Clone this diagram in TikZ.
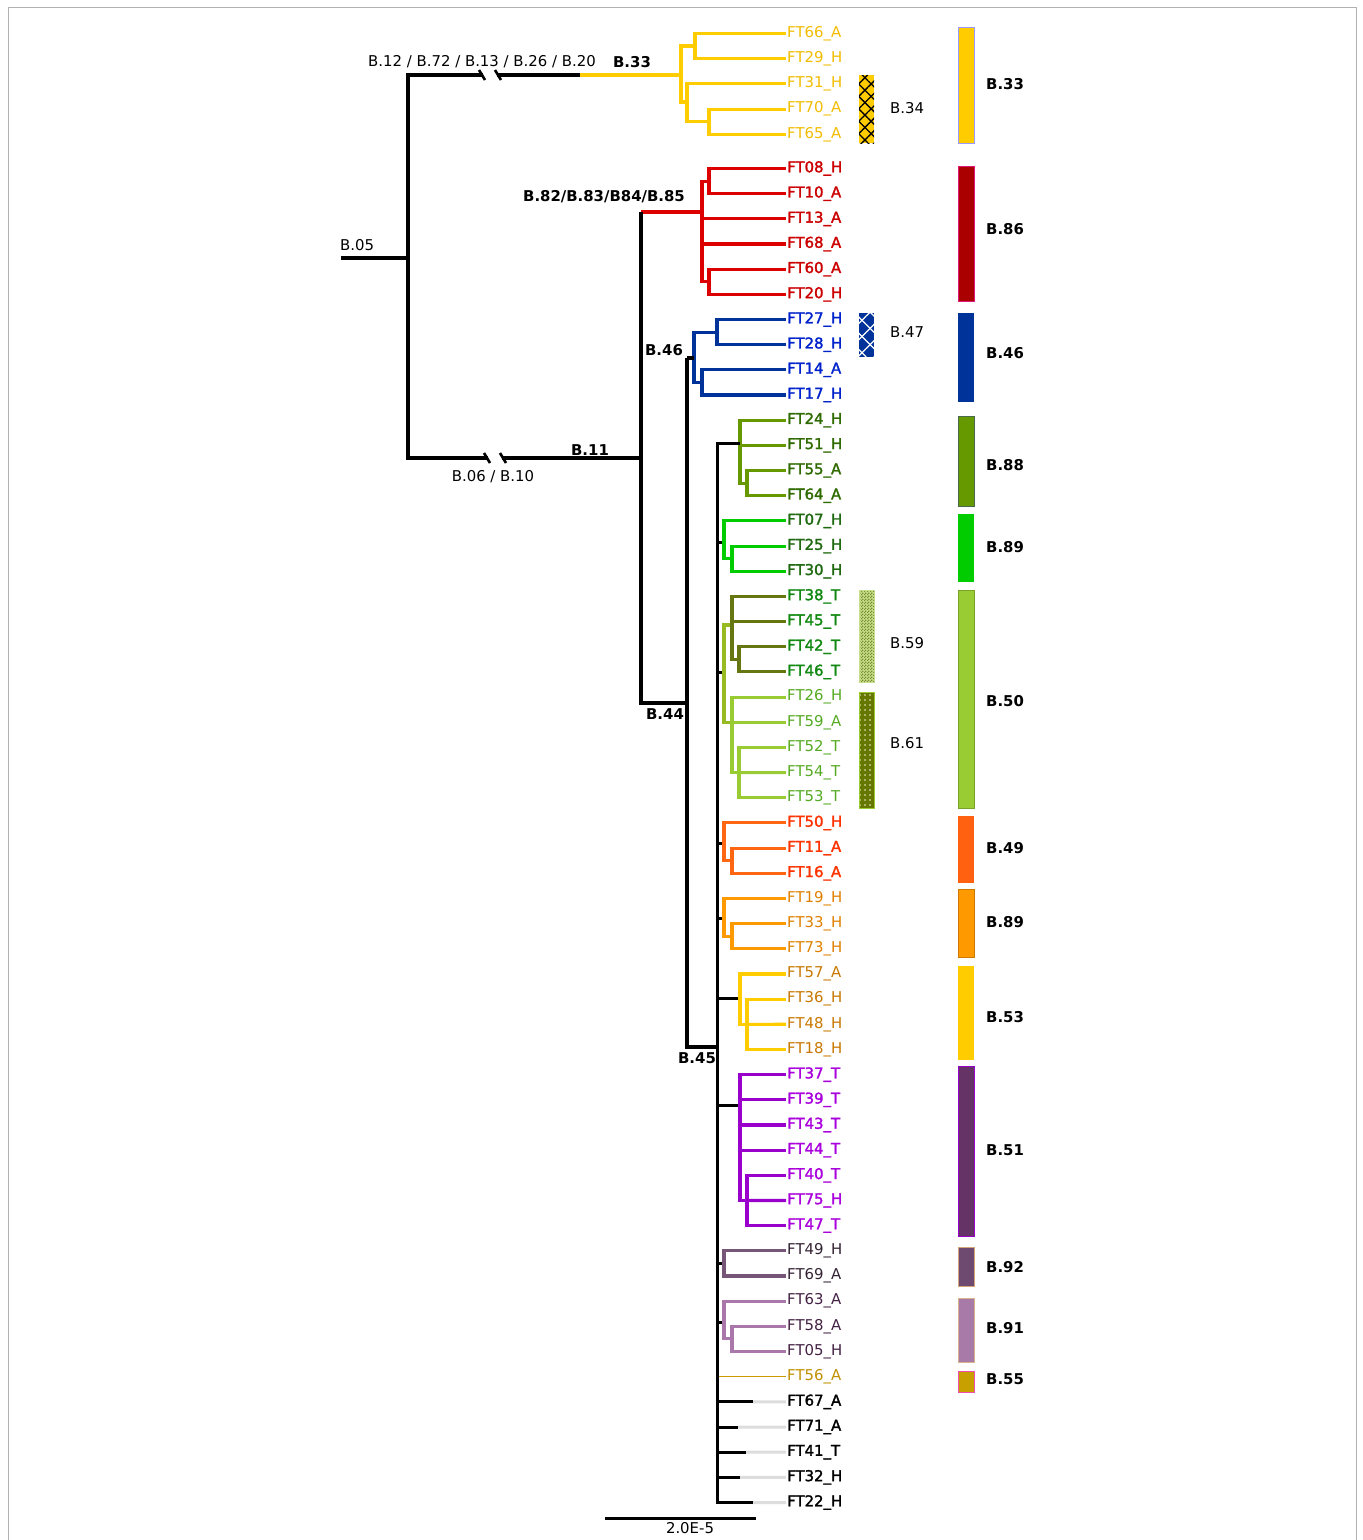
\documentclass[tikz,border=0pt]{standalone}
\usepackage{fontspec}
\setmainfont{DejaVu Sans}
\newfontfamily\fbold[FakeBold=1.8]{DejaVu Sans}
\usetikzlibrary{patterns,patterns.meta}
\pgfdeclarepatternformonly{finecheck}{\pgfpointorigin}{\pgfpoint{3pt}{3pt}}{\pgfpoint{3pt}{3pt}}{%
  \pgfpathrectangle{\pgfpointorigin}{\pgfpoint{1.5pt}{1.5pt}}%
  \pgfpathrectangle{\pgfpoint{1.5pt}{1.5pt}}{\pgfpoint{1.5pt}{1.5pt}}%
  \pgfusepath{fill}}
% branch colours
\definecolor{cY}{HTML}{FFCC00}
\definecolor{cR}{HTML}{DD0000}
\definecolor{cB}{HTML}{003399}
\definecolor{cO}{HTML}{669900}
\definecolor{cG}{HTML}{00CC00}
\definecolor{cD}{HTML}{667711}
\definecolor{cL}{HTML}{99CC33}
\definecolor{cM}{HTML}{99BB22}
\definecolor{cOR}{HTML}{FF6611}
\definecolor{cOG}{HTML}{FF9900}
\definecolor{cP}{HTML}{9900CC}
\definecolor{cW}{HTML}{775577}
\definecolor{cX}{HTML}{AA77AA}
\definecolor{cGold}{HTML}{CC9900}
\definecolor{cGray}{HTML}{DDDDDD}
% text colours
\definecolor{tY}{HTML}{F2BC00}
\definecolor{tR}{HTML}{CC0000}
\definecolor{tB}{HTML}{0022CC}
\definecolor{tO}{HTML}{2F6B00}
\definecolor{tDG}{HTML}{1F6A11}
\definecolor{tG}{HTML}{118811}
\definecolor{tL}{HTML}{55AA22}
\definecolor{tOR}{HTML}{FF3300}
\definecolor{tOG}{HTML}{E08000}
\definecolor{tBr}{HTML}{C87800}
\definecolor{tP}{HTML}{AA00DD}
\definecolor{tDP}{HTML}{332233}
\definecolor{tMP}{HTML}{442244}
\definecolor{tGold}{HTML}{C09000}
% box colours
\definecolor{bR}{HTML}{AA0000}
\definecolor{bB}{HTML}{003399}
\definecolor{bP}{HTML}{663366}
\definecolor{bW}{HTML}{6F4A70}
\definecolor{bX}{HTML}{A87AA8}
\definecolor{bGold}{HTML}{C8A000}
\definecolor{bOl}{HTML}{667700}
\definecolor{bChk}{HTML}{C6DE8C}
\definecolor{bChkD}{HTML}{7A8C2A}
\tikzset{
  lab/.style={font=\fontsize{14.9}{16}\selectfont, inner sep=1pt},
  blab/.style={font=\fontsize{14.9}{16}\selectfont\bfseries, inner sep=1pt},
  leaf/.style={lab, anchor=west},
  leafb/.style={leaf, font=\fontsize{14.9}{16}\fbold},
  lyel/.style={leaf, text=tY},
  lred/.style={leafb, text=tR},
  lblu/.style={leafb, text=tB},
  lolv/.style={leafb, text=tO},
  ldg/.style={leafb, text=tDG},
  lgrn/.style={leafb, text=tG},
  llg/.style={leaf, text=tL},
  lorr/.style={leafb, text=tOR},
  lorg/.style={leaf, text=tOG},
  lbrn/.style={leaf, text=tBr},
  lpur/.style={leafb, text=tP},
  ldp/.style={leaf, text=tDP},
  lmp/.style={leaf, text=tMP},
  lgold/.style={leaf, text=tGold},
  lblk/.style={leafb, text=black},
  br/.style={line width=3.1pt, line join=miter},
  bk/.style={line width=3.4pt, line join=miter, black},
  tick/.style={line width=2.6pt, black},
  gr/.style={line width=3pt, cGray},
}
\begin{document}
\begin{tikzpicture}[x=1pt,y=-1pt]
\useasboundingbox (0,0) rectangle (1363,1540);
\fill[white] (0,0) rectangle (1363,1540);
\draw[gray!60, line width=1pt] (8,7) rectangle (1356,1560);

% ---------- leaves ----------
\node[lyel] (FT66) at (786,33.5) {FT66\_A};
\node[lyel] (FT29) at (786,58.7) {FT29\_H};
\node[lyel] (FT31) at (786,83.9) {FT31\_H};
\node[lyel] (FT70) at (786,109.1) {FT70\_A};
\node[lyel] (FT65) at (786,134.3) {FT65\_A};
\foreach \n/\t/\s [count=\k from 0] in {
 FT08/FT08\_H/lred, FT10/FT10\_A/lred, FT13/FT13\_A/lred, FT68/FT68\_A/lred, FT60/FT60\_A/lred, FT20/FT20\_H/lred,
 FT27/FT27\_H/lblu, FT28/FT28\_H/lblu, FT14/FT14\_A/lblu, FT17/FT17\_H/lblu,
 FT24/FT24\_H/lolv, FT51/FT51\_H/lolv, FT55/FT55\_A/lolv, FT64/FT64\_A/lolv,
 FT07/FT07\_H/ldg, FT25/FT25\_H/ldg, FT30/FT30\_H/ldg,
 FT38/FT38\_T/lgrn, FT45/FT45\_T/lgrn, FT42/FT42\_T/lgrn, FT46/FT46\_T/lgrn,
 FT26/FT26\_H/llg, FT59/FT59\_A/llg, FT52/FT52\_T/llg, FT54/FT54\_T/llg, FT53/FT53\_T/llg,
 FT50/FT50\_H/lorr, FT11/FT11\_A/lorr, FT16/FT16\_A/lorr,
 FT19/FT19\_H/lorg, FT33/FT33\_H/lorg, FT73/FT73\_H/lorg,
 FT57/FT57\_A/lbrn, FT36/FT36\_H/lbrn, FT48/FT48\_H/lbrn, FT18/FT18\_H/lbrn,
 FT37/FT37\_T/lpur, FT39/FT39\_T/lpur, FT43/FT43\_T/lpur, FT44/FT44\_T/lpur, FT40/FT40\_T/lpur, FT75/FT75\_H/lpur, FT47/FT47\_T/lpur,
 FT49/FT49\_H/ldp, FT69/FT69\_A/ldp,
 FT63/FT63\_A/lmp, FT58/FT58\_A/lmp, FT05/FT05\_H/lmp,
 FT56/FT56\_A/lgold,
 FT67/FT67\_A/lblk, FT71/FT71\_A/lblk, FT41/FT41\_T/lblk, FT32/FT32\_H/lblk, FT22/FT22\_H/lblk}
 {\node[\s] (\n) at (786,{168.5+\k*25.17}) {\t};}

% ---------- internal coordinates ----------
\coordinate (r0) at (341,258);
\coordinate (r1) at (408,258);
\coordinate (top) at (408,75);
\coordinate (bot) at (408,458);
\coordinate (k1a) at (483,75);
\coordinate (k1b) at (497,75);
\coordinate (b33) at (580,75);
\coordinate (k2a) at (488,458);
\coordinate (k2b) at (502,458);
\coordinate (n11) at (641,458);
\coordinate (y0) at (681,75);
\coordinate (y1) at (695,46);
\coordinate (y2) at (687,102);
\coordinate (y3) at (709,121.7);
\coordinate (a82) at (641,212);
\coordinate (a44) at (641,703);
\coordinate (b44) at (687,703);
\coordinate (b46) at (687,358);
\coordinate (b45) at (687,1047);
\coordinate (c45) at (717,1047);
\coordinate (ctop) at (717,443);
\coordinate (cbot) at (717,1502.5);
\coordinate (rr) at (702,212);
\coordinate (ra) at (709,181.1);
\coordinate (rb) at (709,281.8);
\coordinate (uu) at (694,358);
\coordinate (ua) at (717,332.1);
\coordinate (ub) at (702,382.5);
\coordinate (o0) at (740,443);
\coordinate (oa) at (747,483.1);
\coordinate (g0) at (724,542);
\coordinate (ga) at (732,558.7);
\coordinate (m0) at (724,672);
\coordinate (m1) at (724,625);
\coordinate (m2) at (724,722.2);
\coordinate (ma) at (732,625);
\coordinate (mb) at (732,722.2);
\coordinate (mc) at (739,659.3);
\coordinate (md) at (739,772.6);
\coordinate (p0) at (724,843);
\coordinate (pa) at (732,860.7);
\coordinate (q0) at (724,918);
\coordinate (qa) at (732,936.2);
\coordinate (s0) at (740,998);
\coordinate (sa) at (747,1024.3);
\coordinate (v0) at (740,1105);
\coordinate (va) at (747,1200.5);
\coordinate (w0) at (724,1263);
\coordinate (x0) at (724,1322);
\coordinate (xa) at (732,1338.9);
\coordinate (e67) at (753,1401.8);
\coordinate (e71) at (738,1427);
\coordinate (e41) at (746,1452.2);
\coordinate (e32) at (740,1477.3);
\coordinate (e22) at (753,1502.5);
\coordinate (sb1) at (605,1518);
\coordinate (sb2) at (756,1518);

% ---------- yellow B.33 clade ----------
\draw[br,cY] (FT66.west) -| (y1) |- (FT29.west);
\draw[br,cY] (FT70.west) -| (y3) |- (FT65.west);
\draw[br,cY] (FT31.west) -| (y2) |- (y3);
\draw[br,cY] (y1) -| (y0) |- (y2);
\draw[br,cY] (b33) -- (y0);

% ---------- red clade ----------
\draw[br,cR] (FT08.west) -| (ra) |- (FT10.west);
\draw[br,cR] (FT60.west) -| (rb) |- (FT20.west);
\draw[br,cR] (ra) -| (rr) |- (rb);
\draw[br,cR] (rr |- FT13.west) -- (FT13.west);
\draw[br,cR] (rr |- FT68.west) -- (FT68.west);
\draw[br,cR] (a82) -- (rr);

% ---------- blue clade ----------
\draw[br,cB] (FT27.west) -| (ua) |- (FT28.west);
\draw[br,cB] (FT14.west) -| (ub) |- (FT17.west);
\draw[br,cB] (ua) -| (uu) |- (ub);

% ---------- olive B.88 ----------
\draw[br,cO] (FT55.west) -| (oa) |- (FT64.west);
\draw[br,cO] (FT24.west) -| (o0) |- (oa);
\draw[br,cO] (o0 |- FT51.west) -- (FT51.west);

% ---------- green B.89 ----------
\draw[bk,line width=3pt] (ctop |- g0) -- (g0);
\draw[br,cG] (FT25.west) -| (ga) |- (FT30.west);
\draw[br,cG] (FT07.west) -| (g0) |- (ga);

% ---------- B.50 ----------
\draw[bk,line width=3pt] (ctop |- m0) -- (m0);
\draw[br,cM] (ma) -- (m1) -- (m2) -- (mb);
\draw[br,cD] (FT42.west) -| (mc) |- (FT46.west);
\draw[br,cD] (FT38.west) -| (ma) |- (mc);
\draw[br,cD] (ma |- FT45.west) -- (FT45.west);
\draw[br,cL] (FT52.west) -| (md) |- (FT53.west);
\draw[br,cL] (md) -- (FT54.west);
\draw[br,cL] (FT26.west) -| (mb) |- (md);
\draw[br,cL] (mb |- FT59.west) -- (FT59.west);

% ---------- B.49 ----------
\draw[bk,line width=3pt] (ctop |- p0) -- (p0);
\draw[br,cOR] (FT11.west) -| (pa) |- (FT16.west);
\draw[br,cOR] (FT50.west) -| (p0) |- (pa);

% ---------- B.89 orange ----------
\draw[bk,line width=3pt] (ctop |- q0) -- (q0);
\draw[br,cOG] (FT33.west) -| (qa) |- (FT73.west);
\draw[br,cOG] (FT19.west) -| (q0) |- (qa);

% ---------- B.53 ----------
\draw[bk,line width=3pt] (ctop |- s0) -- (s0);
\draw[br,cY] (FT36.west) -| (sa) |- (FT18.west);
\draw[br,cY] (sa) -- (FT48.west);
\draw[br,cY] (FT57.west) -| (s0) |- (sa);

% ---------- B.51 ----------
\draw[bk,line width=3pt] (ctop |- v0) -- (v0);
\draw[br,cP] (FT40.west) -| (va) |- (FT47.west);
\draw[br,cP] (va) -- (FT75.west);
\draw[br,cP] (FT37.west) -| (v0) |- (va);
\draw[br,cP] (v0 |- FT39.west) -- (FT39.west);
\draw[br,cP] (v0 |- FT43.west) -- (FT43.west);
\draw[br,cP] (v0 |- FT44.west) -- (FT44.west);

% ---------- B.92 / B.91 / B.55 ----------
\draw[bk,line width=3pt] (ctop |- w0) -- (w0);
\draw[br,cW] (FT49.west) -| (w0) |- (FT69.west);
\draw[bk,line width=3pt] (ctop |- x0) -- (x0);
\draw[br,cX] (FT58.west) -| (xa) |- (FT05.west);
\draw[br,cX] (FT63.west) -| (x0) |- (xa);
\draw[cGold, line width=1.3pt] (ctop |- FT56.west) -- (FT56.west);

% ---------- unresolved black tips ----------
\draw[gr] (e67) -- (FT67.west);
\draw[gr] (e71) -- (FT71.west);
\draw[gr] (e41) -- (FT41.west);
\draw[gr] (e32) -- (FT32.west);
\draw[gr] (e22) -- (FT22.west);
\draw[bk,line width=3pt] (ctop |- e67) -- (e67);
\draw[bk,line width=3pt] (ctop |- e71) -- (e71);
\draw[bk,line width=3pt] (ctop |- e41) -- (e41);
\draw[bk,line width=3pt] (ctop |- e32) -- (e32);

% ---------- black backbone ----------
\draw[bk] (r0) -- (r1);
\draw[bk] (k1a) -- (top) -- (bot) -- (k2a);
\draw[bk] (k1b) -- (b33);
\draw[bk] (k2b) -- (n11);
\draw[bk] (a82) -- (a44) -- (b44);
\draw[bk] (b46) -- (b45) -- (c45);
\draw[bk] (b46) -- (uu);
\draw[bk,line width=3pt] (o0) -- (ctop) -- (cbot) -- (e22);
% break marks
\draw[tick] ([xshift=-4pt,yshift=5pt]k1a) -- ([xshift=2pt,yshift=-5pt]k1a);
\draw[tick] ([xshift=-2pt,yshift=5pt]k1b) -- ([xshift=4pt,yshift=-5pt]k1b);
\draw[tick] ([xshift=-4pt,yshift=5pt]k2a) -- ([xshift=2pt,yshift=-5pt]k2a);
\draw[tick] ([xshift=-2pt,yshift=5pt]k2b) -- ([xshift=4pt,yshift=-5pt]k2b);

% scale bar
\draw[bk,line width=3pt] (sb1) -- (sb2);
\node[lab] (sbl) at (690,1528) {2.0E-5};

% ---------- tree labels ----------
\node[lab, anchor=west] (l05) at (339,245) {B.05};
\node[lab] (l12) at (482,62) {B.12 / B.72 / B.13 / B.26 / B.20};
\node[blab] (l33) at (632,62) {B.33};
\node[blab] (l82) at (604,197) {B.82/B.83/B84/B.85};
\node[blab] (l11) at (590,450) {B.11};
\node[lab] (l06) at (493,477) {B.06 / B.10};
\node[blab] (l46) at (664,350) {B.46};
\node[blab] (l44) at (665,714) {B.44};
\node[blab] (l45) at (697,1058) {B.45};

% ---------- patterned boxes ----------
\fill[cY] (859,75) rectangle (874,143);
\fill[pattern={Lines[angle=45,distance=8.8pt,line width=1.3pt]}, pattern color=black] (859,75) rectangle (874,143);
\fill[pattern={Lines[angle=-45,distance=8.8pt,line width=1.3pt]}, pattern color=black] (859,75) rectangle (874,143);
\node[lab, anchor=west] (l34) at (889,108) {B.34};

\fill[bB] (859,313) rectangle (874,357);
\fill[pattern={Lines[angle=45,distance=11.5pt,line width=1.2pt]}, pattern color=white] (859,313) rectangle (874,357);
\fill[pattern={Lines[angle=-45,distance=11.5pt,line width=1.2pt]}, pattern color=white] (859,313) rectangle (874,357);
\node[lab, anchor=west] (l47) at (889,332) {B.47};

\fill[bChk] (859,590) rectangle (874,682);
\fill[pattern=finecheck, pattern color=bChkD] (859,590) rectangle (874,682);
\draw[bChk, line width=0.8pt] (859,590) rectangle (874,682);
\node[lab, anchor=west] (l59) at (889,643) {B.59};

\fill[bOl] (859,692) rectangle (874,808);
\fill[pattern={Dots[distance=5pt,radius=0.8pt]}, pattern color=white!80!cL] (859,692) rectangle (874,808);
\draw[cL, line width=0.8pt] (859,692) rectangle (874,808);
\node[lab, anchor=west] (l61) at (889,743) {B.61};

% ---------- solid boxes ----------
\filldraw[fill=cY, draw=blue!40!white, line width=0.8pt] (958,27) rectangle (974,143);
\node[blab, anchor=west] (rb33) at (985,84) {B.33};
\filldraw[fill=bR, draw=magenta!70!purple, line width=0.8pt] (958,166) rectangle (974,301);
\node[blab, anchor=west] (rb86) at (985,229) {B.86};
\fill[bB] (958,313) rectangle (974,402);
\node[blab, anchor=west] (rb46) at (985,353) {B.46};
\filldraw[fill=cO, draw=cO!70!blue, line width=0.6pt] (958,416) rectangle (974,506);
\node[blab, anchor=west] (rb88) at (985,465) {B.88};
\fill[cG] (958,514) rectangle (974,582);
\node[blab, anchor=west] (rb89a) at (985,547) {B.89};
\filldraw[fill=cL, draw=cL!80!black, line width=0.6pt] (958,590) rectangle (974,808);
\node[blab, anchor=west] (rb50) at (985,701) {B.50};
\fill[cOR!95!red] (958,816) rectangle (974,883);
\node[blab, anchor=west] (rb49) at (985,848) {B.49};
\filldraw[fill=cOG, draw=cOG!80!black, line width=0.6pt] (958,889) rectangle (974,957);
\node[blab, anchor=west] (rb89b) at (985,922) {B.89};
\fill[cY] (958,966) rectangle (974,1060);
\node[blab, anchor=west] (rb53) at (985,1017) {B.53};
\filldraw[fill=bP, draw=cP, line width=0.8pt] (958,1066) rectangle (974,1236);
\node[blab, anchor=west] (rb51) at (985,1150) {B.51};
\filldraw[fill=bW, draw=brown!70!white, line width=0.6pt] (958,1247) rectangle (974,1286);
\node[blab, anchor=west] (rb92) at (985,1267) {B.92};
\filldraw[fill=bX, draw=brown!60!white, line width=0.6pt] (958,1298) rectangle (974,1362);
\node[blab, anchor=west] (rb91) at (985,1328) {B.91};
\filldraw[fill=bGold, draw=magenta!70!white, line width=0.8pt] (958,1371) rectangle (974,1392);
\node[blab, anchor=west] (rb55) at (985,1379) {B.55};
\end{tikzpicture}
\end{document}
